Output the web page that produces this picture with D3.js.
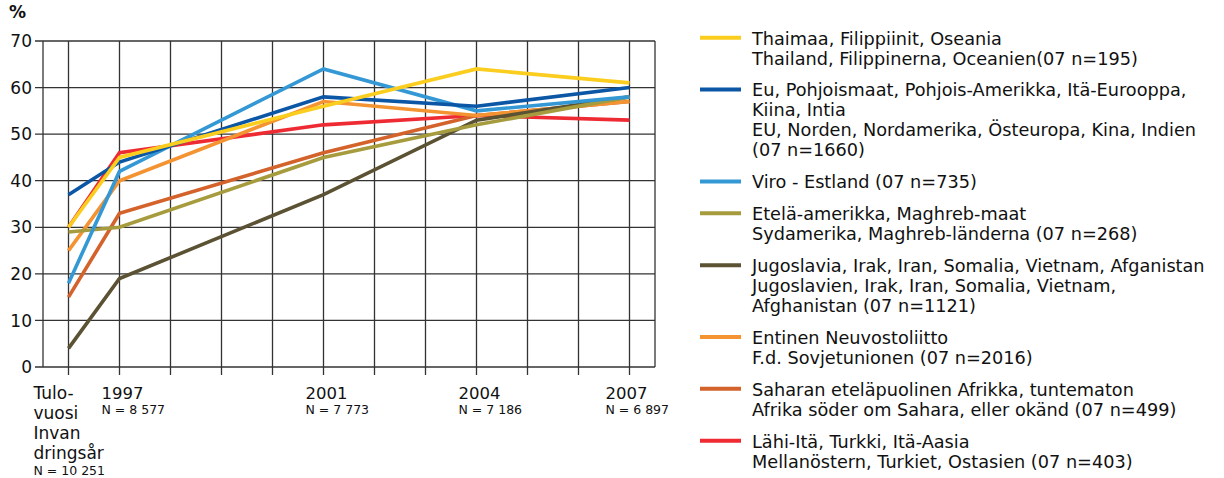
<!DOCTYPE html>
<html><head><meta charset="utf-8">
<script src="https://cdn.jsdelivr.net/npm/d3@7"></script>
<style>
body{margin:0;background:#fff;}
svg{display:block;font-family:"DejaVu Sans",Verdana,sans-serif;}
</style></head>
<body>
<svg id="c" width="1224" height="478"></svg>
<script>
// ---- data ----
const gridCategories = ["arrival","1997","1998","1999","2000","2001","2002","2003","2004","2005","2006","2007"];
const pointCategories = ["arrival","1997","2001","2004","2007"];
const labeledYears = ["1997","2001","2004","2007"];
const yearN = ["N = 8 577","N = 7 773","N = 7 186","N = 6 897"];
const arrivalLabel = ["Tulo-","vuosi","Invan","dringsår"];
const arrivalN = "N = 10 251";
const yTicks = [0,10,20,30,40,50,60,70];

const thai     = [30,45,56,64,61];
const eu       = [37,44,58,56,60];
const viro     = [18,42,64,55,58];
const etela    = [29,30,45,52,58];
const jugo     = [4,19,37,53,58];
const neuvosto = [25,40,57,54,57];
const sahara   = [15,33,46,54,57];
const lahi     = [30,46,52,54,53];

const seriesNames = [
  ["Thaimaa, Filippiinit, Oseania","Thailand, Filippinerna, Oceanien(07 n=195)"],
  ["Eu, Pohjoismaat, Pohjois-Amerikka, Itä-Eurooppa,","Kiina, Intia","EU, Norden, Nordamerika, Östeuropa, Kina, Indien","(07 n=1660)"],
  ["Viro - Estland (07 n=735)"],
  ["Etelä-amerikka, Maghreb-maat","Sydamerika, Maghreb-länderna (07 n=268)"],
  ["Jugoslavia, Irak, Iran, Somalia, Vietnam, Afganistan","Jugoslavien, Irak, Iran, Somalia, Vietnam,","Afghanistan (07 n=1121)"],
  ["Entinen Neuvostoliitto","F.d. Sovjetunionen (07 n=2016)"],
  ["Saharan eteläpuolinen Afrikka, tuntematon","Afrika söder om Sahara, eller okänd (07 n=499)"],
  ["Lähi-Itä, Turkki, Itä-Aasia","Mellanöstern, Turkiet, Ostasien (07 n=403)"]
];
const seriesValues = [thai, eu, viro, etela, jugo, neuvosto, sahara, lahi];
const seriesColors = ["#fbcd1e","#0b56a5","#3498d5","#a69c3e","#5a5233","#f49331","#d3622b","#ee2a33"];

// ---- layout ----
const svg = d3.select("#c");
const L = 43, R = 655, T = 41, B = 367;
const x = d3.scalePoint().domain(gridCategories).range([L, R]).padding(0.5);
const y = d3.scaleLinear().domain([0,70]).range([B, T]);
const gridColor = "#333";

// grid horizontal
svg.append("g").selectAll("line").data(yTicks).join("line")
  .attr("x1", L-8).attr("x2", R).attr("y1", d=>y(d)).attr("y2", d=>y(d))
  .attr("stroke", gridColor).attr("stroke-width", 1.3);
// grid vertical
svg.append("g").selectAll("line").data(gridCategories).join("line")
  .attr("x1", d=>x(d)).attr("x2", d=>x(d)).attr("y1", T).attr("y2", B+8)
  .attr("stroke", gridColor).attr("stroke-width", 1.3);
// borders
svg.append("line").attr("x1",L).attr("x2",L).attr("y1",T).attr("y2",B).attr("stroke",gridColor).attr("stroke-width",1.3);
svg.append("line").attr("x1",R).attr("x2",R).attr("y1",T).attr("y2",B).attr("stroke",gridColor).attr("stroke-width",1.3);

// y labels
svg.append("g").selectAll("text").data(yTicks).join("text")
  .attr("x", L-11).attr("y", d=>y(d)).attr("dy","0.36em")
  .attr("text-anchor","end").attr("font-size",17).attr("fill","#111")
  .text(d=>d);
svg.append("text").attr("x",9).attr("y",18).attr("font-size",17).attr("font-weight","bold").attr("fill","#111").text("%");

// x labels
const xl = svg.append("g");
labeledYears.forEach((yr,i)=>{
  const nt = xl.append("text").attr("y", 414).attr("font-size",12.5).attr("fill","#111").text(yearN[i]);
  const w = nt.node().getComputedTextLength();
  const tx = Math.min(x(yr)-18, 669 - w);
  nt.attr("x", tx);
  xl.append("text").attr("x", tx).attr("y", 398.5).attr("font-size",16.5).attr("fill","#111").text(yr);
});
arrivalLabel.forEach((t,i)=>{
  xl.append("text").attr("x", x("arrival")-35).attr("y", 398.5+i*20.2).attr("font-size",17).attr("fill","#111").text(t);
});
xl.append("text").attr("x", x("arrival")-35).attr("y", 475).attr("font-size",12.5).attr("fill","#111").text(arrivalN);

// lines (reverse legend order so first legend item is on top)
const line = d3.line().x((d,i)=>x(pointCategories[i])).y(d=>y(d));
const order = d3.range(seriesValues.length).reverse();
svg.append("g").selectAll("path").data(order).join("path")
  .attr("d", i=>line(seriesValues[i]))
  .attr("fill","none").attr("stroke", i=>seriesColors[i]).attr("stroke-width",3.6)
  .attr("stroke-linejoin","miter");

// legend
const lg = svg.append("g");
let ly = 37.7;
seriesNames.forEach((lines,i)=>{
  lg.append("line").attr("x1",700).attr("x2",741).attr("y1",ly).attr("y2",ly)
    .attr("stroke",seriesColors[i]).attr("stroke-width",4);
  lines.forEach((t,j)=>{
    lg.append("text").attr("x",752).attr("y",ly+0.5+j*20).attr("dy","0.36em")
      .attr("font-size",17.7).attr("fill","#111").text(t);
  });
  ly += lines.length*20 + 11.86;
});
</script>
</body></html>
